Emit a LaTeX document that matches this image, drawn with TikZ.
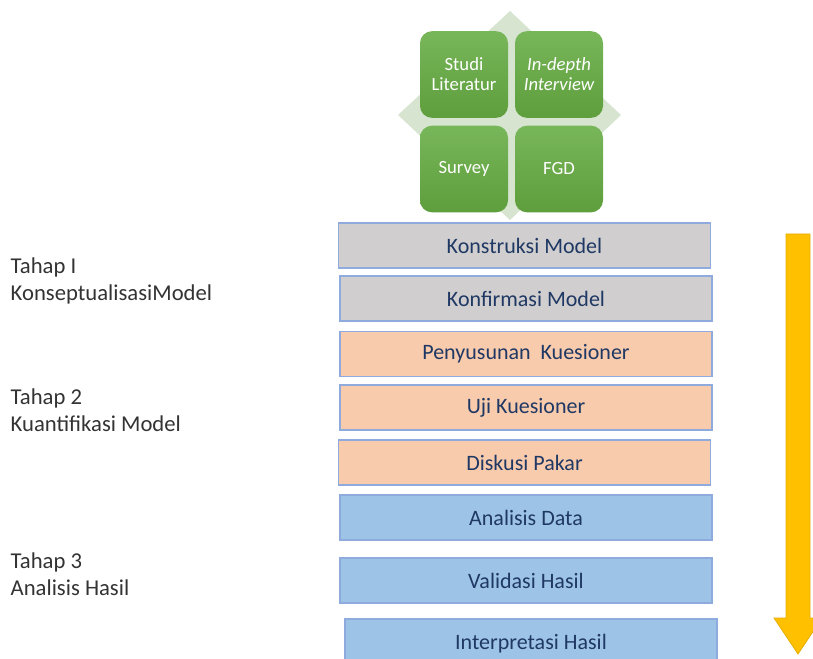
\documentclass[tikz,border=0pt]{standalone}
\usepackage{fontspec}
\setmainfont{Carlito}
\definecolor{abu}{HTML}{D0CECE}
\definecolor{krem}{HTML}{F8CBAD}
\definecolor{biru}{HTML}{9DC3E6}
\definecolor{garis}{HTML}{8FAADC}
\definecolor{teks}{HTML}{1F3864}
\definecolor{hijauatas}{HTML}{78B65A}
\definecolor{hijaubawah}{HTML}{5E9E3C}
\definecolor{hijaumuda}{HTML}{D6E4D0}
\definecolor{emas}{HTML}{FFC000}
\begin{document}
\begin{tikzpicture}[x=0.75pt,y=-0.75pt,
  langkah/.style={draw=garis,line width=1.1pt,minimum width=279pt,minimum height=34pt,
    text=teks,font=\fontsize{16.5}{19}\selectfont},
  metode/.style={rounded corners=9pt,minimum width=66pt,minimum height=65pt,
    top color=hijauatas,bottom color=hijaubawah,draw=none,text=white,
    align=center,font=\fontsize{14}{15}\selectfont},
  tahap/.style={anchor=west,align=left,text=black!80,font=\fontsize{17}{20}\selectfont}]
  \useasboundingbox (0,0) rectangle (813,659);
  % belah ketupat di belakang metode
  \fill[hijaumuda] (510,11) -- (621,115) -- (510,220) -- (398,115) -- cycle;
  \node[metode] (studi) at (464,74.5) {Studi\\Literatur};
  \node[metode] (wawancara) at (559,74.5) {\itshape In-depth\\\itshape Interview};
  \node[metode] (survey) at (464,169) {Survey};
  \node[metode] (fgd) at (559,169) {FGD};
  % tahap 1
  \node[langkah,fill=abu] (konstruksi) at (524.5,245.5) {Konstruksi Model};
  \node[langkah,fill=abu] (konfirmasi) at (526,298.5) {Konfirmasi Model};
  % tahap 2
  \node[langkah,fill=krem] (penyusunan) at (526,354) {Penyusunan\ \ Kuesioner};
  \node[langkah,fill=krem] (uji) at (526,407.5) {Uji Kuesioner};
  \node[langkah,fill=krem] (diskusi) at (524.5,462.5) {Diskusi Pakar};
  % tahap 3
  \node[langkah,fill=biru] (analisis) at (526,517.5) {Analisis Data};
  \node[langkah,fill=biru] (validasi) at (526,580.5) {Validasi Hasil};
  \node[langkah,fill=biru,text depth=0pt] (interpretasi) at (531,641.5) {Interpretasi Hasil};
  % label tahap
  \node[tahap] (t1) at (6,281) {Tahap I\\KonseptualisasiModel};
  \node[tahap] (t2) at (6,410) {Tahap 2\\Kuantifikasi Model};
  \node[tahap] (t3) at (6,574) {Tahap 3\\Analisis Hasil};
  % panah alur
  \filldraw[fill=emas,draw=emas!90!black,line width=0.6pt]
    (786,234) -- (810,234) -- (810,618) -- (822,618) -- (798,654)
    -- (774,618) -- (786,618) -- cycle;
\end{tikzpicture}
\end{document}
